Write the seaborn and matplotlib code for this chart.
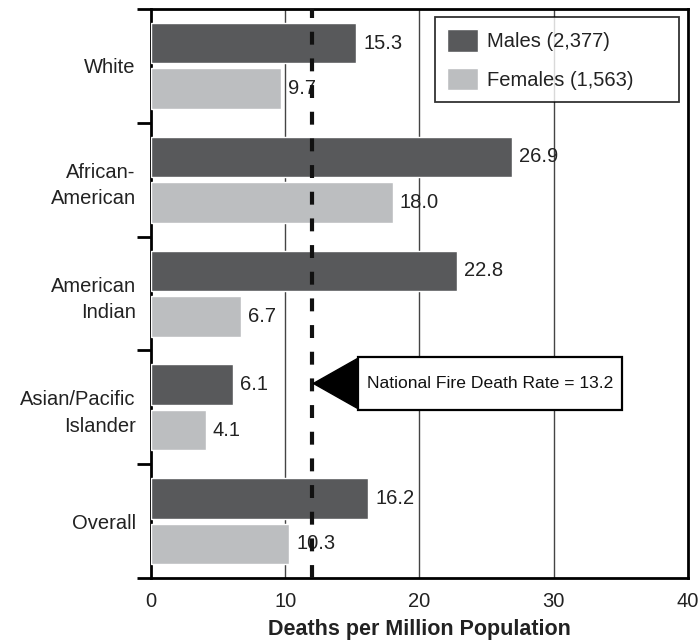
import pandas as pd
import matplotlib.pyplot as plt
import seaborn as sns
from matplotlib.patches import Polygon, Rectangle

# Fire death rates by race and sex (deaths per million population)
groups = ["White", "African-\nAmerican", "American\nIndian", "Asian/Pacific\nIslander", "Overall"]
males = [15.3, 26.9, 22.8, 6.1, 16.2]
females = [9.7, 18.0, 6.7, 4.1, 10.3]
series_names = ["Males (2,377)", "Females (1,563)"]
national_line = 12.0          # position of the dashed line as drawn
national_text = "National Fire Death Rate = 13.2"

df = pd.DataFrame({
    "group": groups * 2,
    "rate": males + females,
    "sex": [series_names[0]] * len(groups) + [series_names[1]] * len(groups),
})

sns.set_theme(style="white")
plt.rcParams["font.family"] = ["Liberation Sans", "DejaVu Sans"]

fig = plt.figure(figsize=(6.99, 6.43), dpi=100)
ax = fig.add_axes([0.216, 0.101, 0.768, 0.885])

sns.barplot(data=df, y="group", x="rate", hue="sex", orient="h",
            palette=["#58595b", "#bcbec0"], saturation=1,
            width=0.8, gap=0.11, ax=ax, zorder=3)

for cont in ax.containers:
    ax.bar_label(cont, fmt="%.1f", padding=5, fontsize=14.5, color="#222222")

# grid lines at 10, 20, 30
for gx in [10, 20, 30]:
    ax.axvline(gx, color="#444444", lw=1, zorder=1)

# national rate dashed line
ax.axvline(national_line, color="#111111", lw=3, linestyle=(0, (3.1, 3.3)), zorder=5)

# annotation: triangle pointer + boxed text
y_ann = 2.79
box_left, box_right = 15.4, 35.1
box_top, box_bottom = 2.56, 3.02
tri = Polygon([[national_line + 0.1, y_ann], [box_left, y_ann - 0.22], [box_left, y_ann + 0.22]],
              closed=True, color="black", zorder=6)
ax.add_patch(tri)
ax.add_patch(Rectangle((box_left, box_top), box_right - box_left, box_bottom - box_top,
                       fc="white", ec="black", lw=1.6, zorder=7))
ax.text((box_left + box_right) / 2, y_ann, national_text, ha="center", va="center",
        fontsize=12.6, color="#111111", zorder=8)

ax.set_xlim(0, 40)
ax.set_ylim(4.5, -0.5)
ax.set_xticks([0, 10, 20, 30, 40])
ax.set_xticks([0, 40], minor=True)
ax.set_yticks(range(len(groups)))
ax.set_yticks([i - 0.5 for i in range(len(groups) + 1)], minor=True)
ax.set_yticklabels(groups, linespacing=1.5)
ax.tick_params(axis="y", which="major", length=0, pad=11, labelsize=14.5, labelcolor="#222222")
ax.tick_params(axis="y", which="minor", left=True, length=10, width=2, color="black", direction="out")
ax.tick_params(axis="x", which="major", length=0, pad=10, labelsize=14.5, labelcolor="#222222")
ax.tick_params(axis="x", which="minor", bottom=True, length=5, width=2, color="black", direction="out")

ax.set_xlabel("Deaths per Million Population", fontsize=15.5, fontweight="bold",
              color="#222222", labelpad=6)
ax.set_ylabel("")

for sp in ax.spines.values():
    sp.set_color("black")
    sp.set_linewidth(2)

leg = ax.legend(loc="upper left", bbox_to_anchor=(0.529, 0.886, 0.454, 0.1), mode="expand",
                fontsize=14.5, frameon=True, fancybox=False,
                handlelength=1.55, handleheight=1.35, borderaxespad=0,
                borderpad=0.6, labelspacing=0.8, handletextpad=0.45)
leg.get_frame().set_edgecolor("black")
leg.get_frame().set_linewidth(1.3)
leg.set_zorder(10)
for t in leg.get_texts():
    t.set_color("#222222")

plt.savefig("out.png", dpi=100)
